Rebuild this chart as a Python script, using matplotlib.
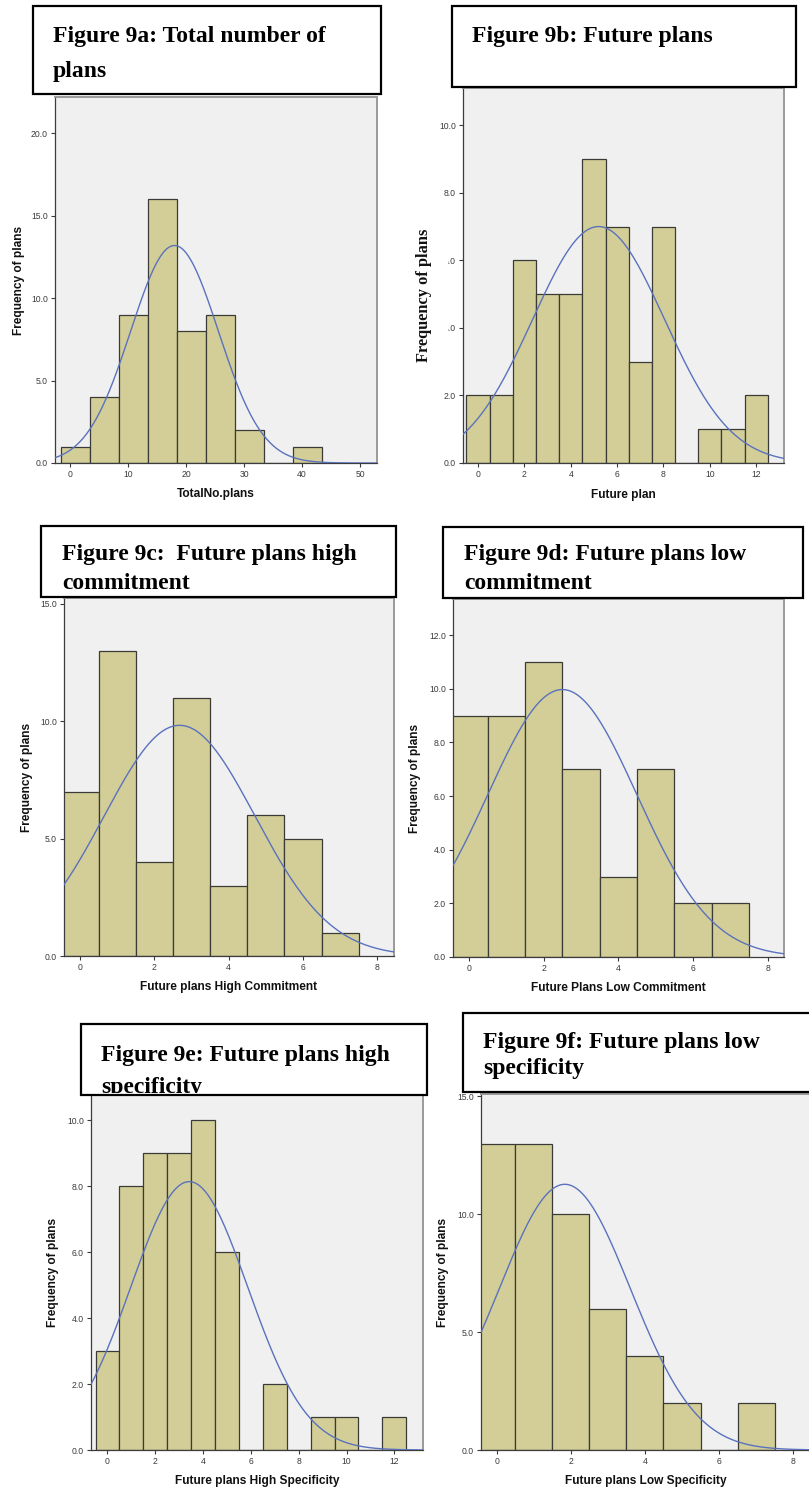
import numpy as np
import matplotlib
matplotlib.use("Agg")
import matplotlib.pyplot as plt
from matplotlib.patches import Rectangle

# ---------------- data ----------------
# Figure 9a: total number of plans (bin width 5)
a_centers = [1, 6, 11, 16, 21, 26, 31, 36, 41]
a_counts = [1, 4, 9, 16, 8, 9, 2, 0, 1]
a_binwidth = 5
a_mean, a_sd = 18.0, 7.56

# Figure 9b: future plans
b_centers = [0, 1, 2, 3, 4, 5, 6, 7, 8, 9, 10, 11, 12]
b_counts = [2, 2, 6, 5, 5, 9, 7, 3, 7, 0, 1, 1, 2]
b_mean, b_sd = 5.2, 2.85

# Figure 9c: future plans high commitment
c_centers = [0, 1, 2, 3, 4, 5, 6, 7]
c_counts = [7, 13, 4, 11, 3, 6, 5, 1]
c_mean, c_sd = 2.68, 2.03

# Figure 9d: future plans low commitment
d_centers = [0, 1, 2, 3, 4, 5, 6, 7]
d_counts = [9, 9, 11, 7, 3, 7, 2, 2]
d_mean, d_sd = 2.5, 2.0

# Figure 9e: future plans high specificity
e_centers = [0, 1, 2, 3, 4, 5, 6, 7, 8, 9, 10, 11, 12]
e_counts = [3, 8, 9, 9, 10, 6, 0, 2, 0, 1, 1, 0, 1]
e_mean, e_sd = 3.42, 2.45

# Figure 9f: future plans low specificity
f_centers = [0, 1, 2, 3, 4, 5, 6, 7]
f_counts = [13, 13, 10, 6, 4, 2, 0, 2]
f_mean, f_sd = 1.84, 1.77

titles = [
    "Figure 9a: Total number of\nplans",
    "Figure 9b: Future plans",
    "Figure 9c:  Future plans high\ncommitment",
    "Figure 9d: Future plans low\ncommitment",
    "Figure 9e: Future plans high\nspecificity",
    "Figure 9f: Future plans low\nspecificity",
]
xlabels = ["TotalNo.plans", "Future plan", "Future plans High Commitment",
           "Future Plans Low Commitment", "Future plans High Specificity",
           "Future plans Low Specificity"]
ylabel = "Frequency of plans"

# ---------------- styling ----------------
W, H = 809, 1490
BAR = "#D3CE97"
EDGE = "#3A3A36"
CURVE = "#5A72BE"
PANEL_BG = "#F0F0F0"
SANS = "Liberation Sans"
SERIF = "Liberation Serif"
LABEL_SIZE = 8.6

fig = plt.figure(figsize=(W / 100, H / 100), dpi=100)
fig.patch.set_facecolor("white")


def px_rect(l, t, r, b):
    return [l / W, 1 - b / H, (r - l) / W, (b - t) / H]


def histogram_panel(box, centers, counts, width, mean, sd, xlim, ylim,
                    xticks, yticks, xlabel, xlab_y, ylab_x, ylab_y=None,
                    serif_ylabel=False):
    l, t, r, b = box
    ax = fig.add_axes(px_rect(l, t, r, b))
    ax.set_facecolor(PANEL_BG)
    ax.bar(centers, counts, width=width, color=BAR, edgecolor=EDGE,
           linewidth=0.9, zorder=2)
    n = sum(counts)
    xs = np.linspace(xlim[0], xlim[1], 400)
    ys = n * width * np.exp(-0.5 * ((xs - mean) / sd) ** 2) / (sd * np.sqrt(2 * np.pi))
    ax.plot(xs, ys, color=CURVE, lw=1.0, zorder=3)
    ax.set_xlim(*xlim)
    ax.set_ylim(*ylim)
    ax.set_xticks(xticks)
    ax.set_xticklabels([str(v) for v in xticks])
    ax.set_yticks(yticks)
    ax.set_yticklabels([f"{v:.1f}" for v in yticks])
    ax.tick_params(axis="both", direction="out", length=3, width=0.8,
                   labelsize=6.2, colors="#3a3a3a", pad=2)
    for lab in ax.get_xticklabels() + ax.get_yticklabels():
        lab.set_family(SANS)
    for side in ("left", "bottom"):
        ax.spines[side].set_color("#3c3c3c")
        ax.spines[side].set_linewidth(0.9)
    for side in ("top", "right"):
        ax.spines[side].set_color("#9a9a9a")
        ax.spines[side].set_linewidth(1.4)
    fig.text((l + r) / 2 / W, 1 - xlab_y / H, xlabel, ha="center", va="center",
             family=SANS, weight="bold", fontsize=LABEL_SIZE, color="#111111")
    yc = (t + b) / 2 if ylab_y is None else ylab_y
    if serif_ylabel:
        fig.text(ylab_x / W, 1 - yc / H, ylabel, rotation=90,
                 ha="center", va="center", family=SERIF, weight="bold",
                 fontsize=11.8, color="#111111", zorder=8)
    else:
        fig.text(ylab_x / W, 1 - yc / H, ylabel, rotation=90,
                 ha="center", va="center", family=SANS, weight="bold",
                 fontsize=LABEL_SIZE, color="#111111")
    return ax


histogram_panel((55, 97, 377, 463), a_centers, a_counts, a_binwidth, a_mean, a_sd,
                (-2.6, 52.9), (0, 22.2), [0, 10, 20, 30, 40, 50], [0, 5, 10, 15, 20],
                xlabels[0], 494, 19)
histogram_panel((463, 88, 784, 463), b_centers, b_counts, 1, b_mean, b_sd,
                (-0.65, 13.2), (0, 11.1), list(range(0, 13, 2)), [0, 2, 4, 6, 8, 10],
                xlabels[1], 495, 424, ylab_y=295, serif_ylabel=True)
histogram_panel((64, 598, 394, 956), c_centers, c_counts, 1, c_mean, c_sd,
                (-0.43, 8.45), (0, 15.25), list(range(0, 9, 2)), [0, 5, 10, 15],
                xlabels[2], 987, 27)
histogram_panel((453, 599, 784, 957), d_centers, d_counts, 1, d_mean, d_sd,
                (-0.43, 8.44), (0, 13.35), list(range(0, 9, 2)), list(range(0, 13, 2)),
                xlabels[3], 988, 415)
histogram_panel((91, 1094, 423, 1450), e_centers, e_counts, 1, e_mean, e_sd,
                (-0.69, 13.2), (0, 10.8), list(range(0, 13, 2)), list(range(0, 11, 2)),
                xlabels[4], 1481, 53)
histogram_panel((481, 1094, 810, 1450), f_centers, f_counts, 1, f_mean, f_sd,
                (-0.42, 8.45), (0, 15.1), list(range(0, 9, 2)), [0, 5, 10, 15],
                xlabels[5], 1481, 443)

# white pasted panel behind the serif y label of 9b
fig.add_artist(Rectangle((412 / W, 1 - 374 / H), 36 / W, 158 / H,
                         transform=fig.transFigure, facecolor="white",
                         edgecolor="none", zorder=7))

# ---------------- caption boxes ----------------
# (left, top, right, bottom, text_x, first_baseline, line_gap)
boxes = [
    (33, 6, 381, 94, 53, 42, 35),
    (452, 6, 796, 87, 472, 42, 35),
    (41, 526, 396, 597, 62, 560, 29),
    (443, 527, 803, 598, 464, 560, 29),
    (81, 1024, 427, 1095, 101, 1061, 32),
    (463, 1013, 812, 1092, 483, 1048, 26),
]
for (l, t, r, b, tx, base, gap), title in zip(boxes, titles):
    rect = Rectangle((l / W, 1 - b / H), (r - l) / W, (b - t) / H,
                     transform=fig.transFigure, facecolor="white",
                     edgecolor="black", linewidth=1.6, zorder=10)
    fig.add_artist(rect)
    clip = Rectangle((l / W, 1 - (b - 2) / H), (r - l) / W, (b - t - 2) / H,
                     transform=fig.transFigure)
    for i, line in enumerate(title.split("\n")):
        txt = fig.text(tx / W, 1 - (base + i * gap) / H, line, ha="left",
                       va="baseline", family=SERIF, weight="bold",
                       fontsize=17, color="black", zorder=11)
        txt.set_clip_path(clip)

fig.savefig("out.png", dpi=100, facecolor="white")
